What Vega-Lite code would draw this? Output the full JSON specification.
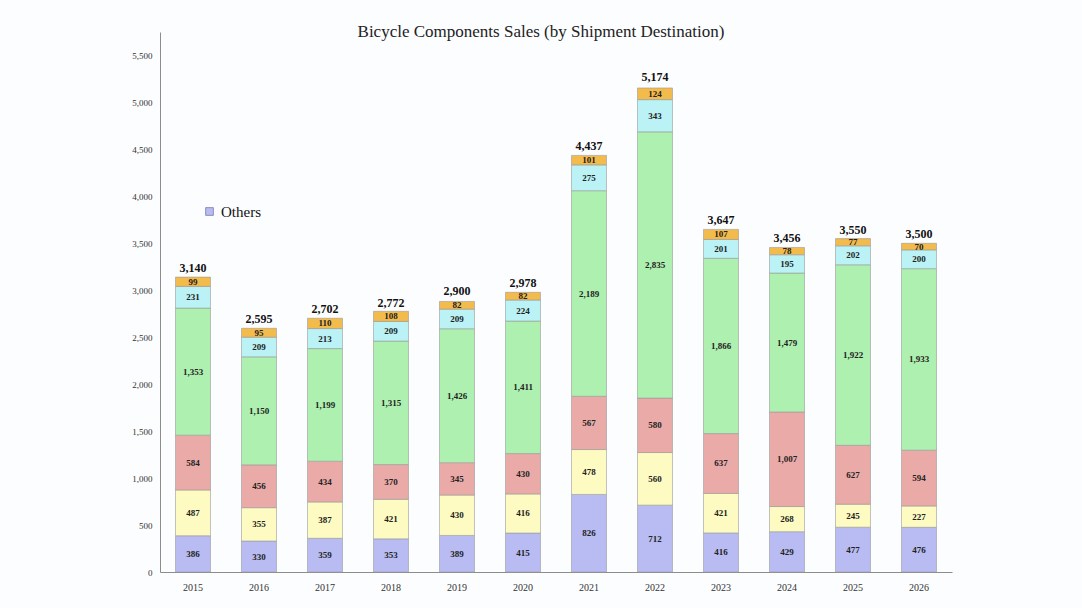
{
  "$schema": "https://vega.github.io/schema/vega-lite/v6.json",
  "autosize": "none",
  "width": 792,
  "height": 540,
  "padding": {"left": 160, "top": 32, "right": 130, "bottom": 36},
  "background": "#fcfdff",
  "config": {"view": {"stroke": null}},
  "title": {
    "text": "Bicycle Components Sales (by Shipment Destination)",
    "font": "Liberation Serif",
    "fontSize": 17,
    "fontWeight": "normal",
    "color": "#222222",
    "anchor": "middle",
    "dx": -15,
    "offset": -9
  },
  "datasets": {
    "regions": [
      {"region": "Others", "rank": 1},
      {"region": "Japan", "rank": 2},
      {"region": "Europe", "rank": 3},
      {"region": "Asia", "rank": 4},
      {"region": "North America", "rank": 5},
      {"region": "Central & South America", "rank": 6}
    ],
    "sales": [
      {"year": "2015", "region": "Others", "value": 386},
      {"year": "2015", "region": "Japan", "value": 487},
      {"year": "2015", "region": "Europe", "value": 584},
      {"year": "2015", "region": "Asia", "value": 1353},
      {"year": "2015", "region": "North America", "value": 231},
      {"year": "2015", "region": "Central & South America", "value": 99},
      {"year": "2016", "region": "Others", "value": 330},
      {"year": "2016", "region": "Japan", "value": 355},
      {"year": "2016", "region": "Europe", "value": 456},
      {"year": "2016", "region": "Asia", "value": 1150},
      {"year": "2016", "region": "North America", "value": 209},
      {"year": "2016", "region": "Central & South America", "value": 95},
      {"year": "2017", "region": "Others", "value": 359},
      {"year": "2017", "region": "Japan", "value": 387},
      {"year": "2017", "region": "Europe", "value": 434},
      {"year": "2017", "region": "Asia", "value": 1199},
      {"year": "2017", "region": "North America", "value": 213},
      {"year": "2017", "region": "Central & South America", "value": 110},
      {"year": "2018", "region": "Others", "value": 353},
      {"year": "2018", "region": "Japan", "value": 421},
      {"year": "2018", "region": "Europe", "value": 370},
      {"year": "2018", "region": "Asia", "value": 1315},
      {"year": "2018", "region": "North America", "value": 209},
      {"year": "2018", "region": "Central & South America", "value": 108},
      {"year": "2019", "region": "Others", "value": 389},
      {"year": "2019", "region": "Japan", "value": 430},
      {"year": "2019", "region": "Europe", "value": 345},
      {"year": "2019", "region": "Asia", "value": 1426},
      {"year": "2019", "region": "North America", "value": 209},
      {"year": "2019", "region": "Central & South America", "value": 82},
      {"year": "2020", "region": "Others", "value": 415},
      {"year": "2020", "region": "Japan", "value": 416},
      {"year": "2020", "region": "Europe", "value": 430},
      {"year": "2020", "region": "Asia", "value": 1411},
      {"year": "2020", "region": "North America", "value": 224},
      {"year": "2020", "region": "Central & South America", "value": 82},
      {"year": "2021", "region": "Others", "value": 826},
      {"year": "2021", "region": "Japan", "value": 478},
      {"year": "2021", "region": "Europe", "value": 567},
      {"year": "2021", "region": "Asia", "value": 2189},
      {"year": "2021", "region": "North America", "value": 275},
      {"year": "2021", "region": "Central & South America", "value": 101},
      {"year": "2022", "region": "Others", "value": 712},
      {"year": "2022", "region": "Japan", "value": 560},
      {"year": "2022", "region": "Europe", "value": 580},
      {"year": "2022", "region": "Asia", "value": 2835},
      {"year": "2022", "region": "North America", "value": 343},
      {"year": "2022", "region": "Central & South America", "value": 124},
      {"year": "2023", "region": "Others", "value": 416},
      {"year": "2023", "region": "Japan", "value": 421},
      {"year": "2023", "region": "Europe", "value": 637},
      {"year": "2023", "region": "Asia", "value": 1866},
      {"year": "2023", "region": "North America", "value": 201},
      {"year": "2023", "region": "Central & South America", "value": 107},
      {"year": "2024", "region": "Others", "value": 429},
      {"year": "2024", "region": "Japan", "value": 268},
      {"year": "2024", "region": "Europe", "value": 1007},
      {"year": "2024", "region": "Asia", "value": 1479},
      {"year": "2024", "region": "North America", "value": 195},
      {"year": "2024", "region": "Central & South America", "value": 78},
      {"year": "2025", "region": "Others", "value": 477},
      {"year": "2025", "region": "Japan", "value": 245},
      {"year": "2025", "region": "Europe", "value": 627},
      {"year": "2025", "region": "Asia", "value": 1922},
      {"year": "2025", "region": "North America", "value": 202},
      {"year": "2025", "region": "Central & South America", "value": 77},
      {"year": "2026", "region": "Others", "value": 476},
      {"year": "2026", "region": "Japan", "value": 227},
      {"year": "2026", "region": "Europe", "value": 594},
      {"year": "2026", "region": "Asia", "value": 1933},
      {"year": "2026", "region": "North America", "value": 200},
      {"year": "2026", "region": "Central & South America", "value": 70}
    ],
    "totals": [
      {"year": "2015", "total": 3140},
      {"year": "2016", "total": 2595},
      {"year": "2017", "total": 2702},
      {"year": "2018", "total": 2772},
      {"year": "2019", "total": 2900},
      {"year": "2020", "total": 2978},
      {"year": "2021", "total": 4437},
      {"year": "2022", "total": 5174},
      {"year": "2023", "total": 3647},
      {"year": "2024", "total": 3456},
      {"year": "2025", "total": 3550},
      {"year": "2026", "total": 3500}
    ]
  },
  "encoding": {
    "x": {
      "field": "year",
      "type": "ordinal",
      "title": null,
      "scale": {"paddingInner": 0.47, "paddingOuter": 0.235},
      "axis": {
        "labelAngle": 0,
        "ticks": false,
        "domainColor": "#8c8c8c",
        "labelFont": "Liberation Serif",
        "labelFontSize": 10,
        "labelColor": "#333333",
        "labelPadding": 10
      }
    }
  },
  "layer": [
    {
      "data": {"name": "sales"},
      "transform": [
        {"lookup": "region", "from": {"data": {"name": "regions"}, "key": "region", "fields": ["rank"]}}
      ],
      "layer": [
        {
          "mark": {"type": "bar", "stroke": "#9a9a9a", "strokeWidth": 0.6},
          "encoding": {
            "y": {
              "field": "value",
              "type": "quantitative",
              "stack": "zero",
              "title": null,
              "scale": {"domain": [0, 5750], "nice": false},
              "axis": {
                "values": [0, 500, 1000, 1500, 2000, 2500, 3000, 3500, 4000, 4500, 5000, 5500],
                "format": ",.0f",
                "grid": false,
                "ticks": false,
                "domainColor": "#8c8c8c",
                "labelFont": "Liberation Serif",
                "labelFontSize": 9,
                "labelColor": "#333333",
                "labelPadding": 8
              }
            },
            "order": {"field": "rank", "type": "quantitative", "sort": "ascending"},
            "color": {
              "field": "region",
              "type": "nominal",
              "scale": {
                "domain": ["Others", "Japan", "Europe", "Asia", "North America", "Central & South America"],
                "range": ["#b8bcf2", "#fdfbc2", "#eaaaa8", "#aef0b0", "#baf2f6", "#f3ba4c"]
              },
              "legend": {
                "values": ["Others"],
                "title": null,
                "orient": "none",
                "legendX": 42,
                "legendY": 172,
                "symbolType": "square",
                "symbolSize": 60,
                "symbolStrokeColor": "#7a7ab0",
                "symbolStrokeWidth": 0.8,
                "labelFont": "Liberation Serif",
                "labelFontSize": 15,
                "labelColor": "#111111"
              }
            }
          }
        },
        {
          "mark": {"type": "text", "font": "Liberation Serif", "fontSize": 9, "fontWeight": "bold", "color": "#222222"},
          "encoding": {
            "y": {"field": "value", "type": "quantitative", "stack": "zero", "bandPosition": 0.5},
            "order": {"field": "rank", "type": "quantitative", "sort": "ascending"},
            "detail": {"field": "region"},
            "text": {"field": "value", "type": "quantitative", "format": ","}
          }
        }
      ]
    },
    {
      "data": {"name": "totals"},
      "mark": {"type": "text", "font": "Liberation Serif", "fontSize": 12, "fontWeight": "bold", "color": "#111111", "dy": -9},
      "encoding": {
        "y": {"field": "total", "type": "quantitative"},
        "text": {"field": "total", "type": "quantitative", "format": ","}
      }
    }
  ]
}
